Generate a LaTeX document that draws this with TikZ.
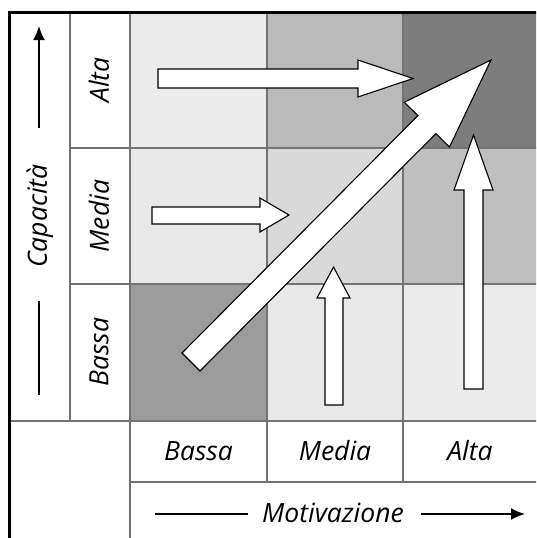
\documentclass[tikz,border=0pt]{standalone}
\usepackage{fontspec}
\setmainfont{Open Sans}
\usetikzlibrary{arrows.meta}
\begin{document}
\begin{tikzpicture}[x=1pt,y=-1pt,
  gridline/.style={draw=black!55,line width=1.3pt},
  blockarrow/.style={draw=black,fill=white,line width=1.1pt,line join=miter},
  lbl/.style={font=\itshape\fontsize{26.5}{30}\selectfont,inner sep=0pt},
  axisline/.style={line width=1.8pt},
  axisarrow/.style={line width=1.8pt,-{Latex[length=14pt,width=12pt]}}]
\useasboundingbox (0,0) rectangle (536,538);
\begin{scope}
\clip (0,0) rectangle (536,538);
% cells
\fill[black!8]  (130,12) rectangle (267,148);
\fill[black!27] (267,12) rectangle (403,148);
\fill[black!51] (403,12) rectangle (540,148);
\fill[black!9]  (130,148) rectangle (267,284);
\fill[black!15] (267,148) rectangle (403,284);
\fill[black!25] (403,148) rectangle (540,284);
\fill[black!39] (130,284) rectangle (267,421);
\fill[black!9]  (267,284) rectangle (403,421);
\fill[black!8]  (403,284) rectangle (540,421);
% grid lines
\draw[gridline] (9,421) -- (540,421);
\draw[gridline] (70,148) -- (540,148);
\draw[gridline] (70,284) -- (540,284);
\draw[gridline] (130,482) -- (540,482);
\draw[gridline] (70,12) -- (70,421);
\draw[gridline] (130,12) -- (130,540);
\draw[gridline] (267,12) -- (267,482);
\draw[gridline] (403,12) -- (403,482);
% frame
\draw[line width=3pt] (9,540) -- (9,12) -- (540,12);
\end{scope}
% block arrows
\draw[blockarrow] (158,69) -- (358,69) -- (358,60) -- (413,78.5) -- (358,97) -- (358,88) -- (158,88) -- cycle;
\draw[blockarrow] (152,207) -- (260,207) -- (260,198) -- (289,215) -- (260,232) -- (260,224) -- (152,224) -- cycle;
\draw[blockarrow] (325,405) -- (325,298) -- (317,298) -- (333.5,267) -- (350,298) -- (343,298) -- (343,405) -- cycle;
\draw[blockarrow] (464,389) -- (464,190) -- (454,190) -- (473.5,135) -- (493,190) -- (483,190) -- (483,389) -- cycle;
\draw[blockarrow] (182,353) -- (417.9,115.6) -- (404.3,102.2) -- (491,60) -- (449.5,147) -- (435.9,133.6) -- (200,371) -- cycle;
% axis labels
\node[lbl,rotate=90] (cap) at (40,216) {Capacità};
\coordinate (capA) at (39,128);
\coordinate (capB) at (39,26);
\coordinate (capC) at (39,301);
\coordinate (capD) at (39,395);
\draw[axisarrow] (capA) -- (capB);
\draw[axisline] (capC) -- (capD);
\node[lbl] (mot) at (333,513) {Motivazione};
\coordinate (motA) at (155,514);
\coordinate (motB) at (248,514);
\coordinate (motC) at (421,514);
\coordinate (motD) at (525,514);
\draw[axisline] (motA) -- (motB);
\draw[axisarrow] (motC) -- (motD);
% row labels
\node[lbl,rotate=90] (ra) at (99,80) {Alta};
\node[lbl,rotate=90] (rm) at (99,216) {Media};
\node[lbl,rotate=90] (rb) at (99,352) {Bassa};
% column labels
\node[lbl] (cb) at (198.5,451) {Bassa};
\node[lbl] (cm) at (335,451) {Media};
\node[lbl] (ca) at (470,451) {Alta};
\end{tikzpicture}
\end{document}
